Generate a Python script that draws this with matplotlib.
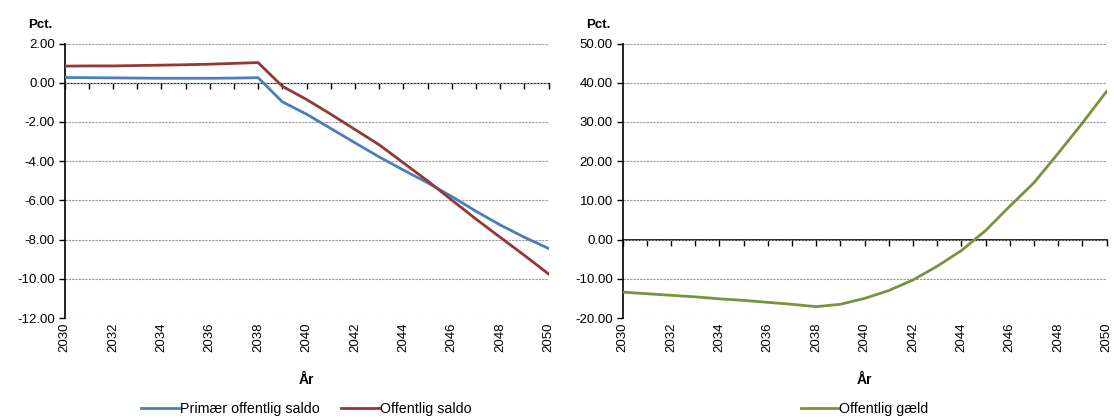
import matplotlib
matplotlib.use("Agg")
import matplotlib.pyplot as plt
import numpy as np

plt.rcParams['font.family'] = ['Liberation Sans', 'DejaVu Sans']

years = list(range(2030, 2051))
primaer_saldo = [0.27, 0.26, 0.25, 0.24, 0.23, 0.23, 0.23, 0.24, 0.26,
                 -0.97, -1.60, -2.33, -3.06, -3.78, -4.45, -5.10, -5.80,
                 -6.55, -7.25, -7.88, -8.45]
offentlig_saldo = [0.85, 0.86, 0.86, 0.88, 0.90, 0.92, 0.95, 0.99, 1.03,
                   -0.18, -0.85, -1.60, -2.38, -3.16, -4.08, -5.00, -5.98,
                   -6.95, -7.88, -8.80, -9.75]
offentlig_gaeld = [-13.4, -13.8, -14.2, -14.6, -15.1, -15.5, -16.0, -16.5, -17.1,
                   -16.5, -15.0, -13.0, -10.3, -6.8, -2.8, 2.3, 8.5,
                   14.5, 22.0, 29.7, 37.8]

left_ticks = [2.0, 0.0, -2.0, -4.0, -6.0, -8.0, -10.0, -12.0]
right_ticks = [50.0, 40.0, 30.0, 20.0, 10.0, 0.0, -10.0, -20.0]
label_years = list(range(2030, 2051, 2))

c_blue = '#4A7EBB'
c_red = '#953735'
c_green = '#77933C'

fig = plt.figure(figsize=(11.14, 4.19), dpi=100)
axL = fig.add_axes([0.0579, 0.241, 0.4345, 0.655])
axR = fig.add_axes([0.5588, 0.241, 0.4345, 0.655])


def style(ax, yticks, ylim):
    ax.set_xlim(2030, 2050)
    ax.set_ylim(*ylim)
    ax.set_yticks(yticks)
    ax.set_yticklabels([f"{v:.2f}" for v in yticks], fontsize=9.5)
    ax.set_xticks(label_years)
    ax.set_xticklabels([str(y) for y in label_years], rotation=90, fontsize=9.5)
    ax.tick_params(axis='x', length=0, pad=3)
    ax.tick_params(axis='y', length=4, width=1, direction='out', pad=3)
    for s in ['top', 'right', 'bottom']:
        ax.spines[s].set_visible(False)
    ax.spines['left'].set_linewidth(1.2)
    ax.grid(axis='y', color='#999999', linestyle=(0, (2, 1)), linewidth=0.8)
    ax.set_axisbelow(True)
    # zero axis line with yearly ticks
    frac = (0 - ylim[0]) / (ylim[1] - ylim[0])
    sec = ax.secondary_xaxis(frac)
    sec.set_xticks(years)
    sec.tick_params(axis='x', direction='out', length=4, width=1, labelbottom=False,
                    labeltop=False, bottom=True, top=False)
    sec.xaxis.set_ticks_position('bottom')
    sec.set_xticklabels([])
    sec.spines['bottom'].set_linewidth(1.2)
    sec.spines['bottom'].set_color('black')
    ax.set_xlabel('År', fontsize=10, fontweight='bold', labelpad=15)
    ax.text(-0.025, 1.045, 'Pct.', transform=ax.transAxes, fontsize=9.5,
            fontweight='bold', ha='right', va='bottom')


style(axL, left_ticks, (-12, 2))
style(axR, right_ticks, (-20, 50))

axL.plot(years, primaer_saldo, color=c_blue, lw=2.0, label='Primær offentlig saldo', zorder=3)
axL.plot(years, offentlig_saldo, color=c_red, lw=2.0, label='Offentlig saldo', zorder=3)
axR.plot(years, offentlig_gaeld, color=c_green, lw=2.0, label='Offentlig gæld', zorder=3)

for ax in (axL, axR):
    ax.legend(loc='center', bbox_to_anchor=(0.5, -0.332), ncol=2, frameon=False,
              fontsize=10.3, handlelength=2.6, handletextpad=0.1, columnspacing=1.5,
              borderpad=0)

fig.savefig('out.png', dpi=100)
